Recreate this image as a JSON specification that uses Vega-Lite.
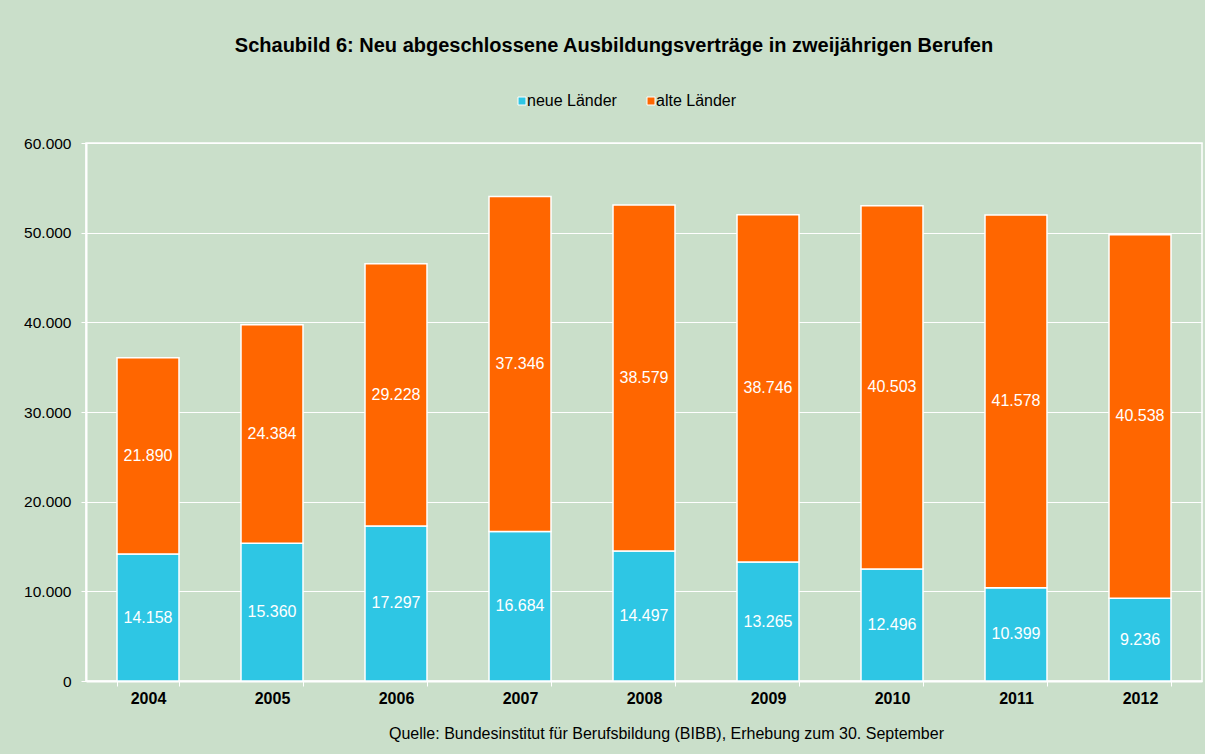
{
  "$schema": "https://vega.github.io/schema/vega-lite/v6.json",
  "width": 1116,
  "height": 538,
  "autosize": {"type": "none"},
  "padding": {"left": 86, "top": 143, "right": 3, "bottom": 73},
  "background": "#CADFCA",
  "title": {
    "text": "Schaubild 6: Neu abgeschlossene Ausbildungsverträge in zweijährigen Berufen",
    "anchor": "middle",
    "frame": "group",
    "dx": -30,
    "offset": 37,
    "fontSize": 20,
    "fontWeight": "bold",
    "font": "Liberation Sans",
    "color": "#000000"
  },
  "data": {
    "values": [
      {"year": "2004", "region": "neue Länder", "value": 14158},
      {"year": "2004", "region": "alte Länder", "value": 21890},
      {"year": "2005", "region": "neue Länder", "value": 15360},
      {"year": "2005", "region": "alte Länder", "value": 24384},
      {"year": "2006", "region": "neue Länder", "value": 17297},
      {"year": "2006", "region": "alte Länder", "value": 29228},
      {"year": "2007", "region": "neue Länder", "value": 16684},
      {"year": "2007", "region": "alte Länder", "value": 37346},
      {"year": "2008", "region": "neue Länder", "value": 14497},
      {"year": "2008", "region": "alte Länder", "value": 38579},
      {"year": "2009", "region": "neue Länder", "value": 13265},
      {"year": "2009", "region": "alte Länder", "value": 38746},
      {"year": "2010", "region": "neue Länder", "value": 12496},
      {"year": "2010", "region": "alte Länder", "value": 40503},
      {"year": "2011", "region": "neue Länder", "value": 10399},
      {"year": "2011", "region": "alte Länder", "value": 41578},
      {"year": "2012", "region": "neue Länder", "value": 9236},
      {"year": "2012", "region": "alte Länder", "value": 40538}
    ]
  },
  "transform": [
    {"stack": "value", "groupby": ["year"], "sort": [{"field": "region", "order": "descending"}], "as": ["y0", "y1"]},
    {"calculate": "(datum.y0 + datum.y1) / 2", "as": "mid"}
  ],
  "encoding": {
    "x": {
      "field": "year",
      "type": "nominal",
      "scale": {"paddingInner": 0.5, "paddingOuter": 0.25},
      "axis": {
        "labelAngle": 0,
        "labelFont": "Liberation Sans",
        "labelFontSize": 16,
        "labelFontWeight": "bold",
        "labelColor": "#000000",
        "labelPadding": 4,
        "tickBand": "extent",
        "tickColor": "#FFFFFF",
        "tickSize": 5,
        "domainColor": "#FFFFFF",
        "domainWidth": 2,
        "title": "Quelle: Bundesinstitut für Berufsbildung (BIBB), Erhebung zum 30. September",
        "titleFont": "Liberation Sans",
        "titleFontSize": 16,
        "titleFontWeight": "normal",
        "titleColor": "#000000",
        "titleX": 580,
        "titleY": 52,
        "titleAlign": "center",
        "titleBaseline": "middle"
      }
    }
  },
  "layer": [
    {
      "mark": {"type": "bar", "stroke": "#FFFFFF", "strokeWidth": 1.5},
      "encoding": {
        "y": {
          "field": "y0",
          "type": "quantitative",
          "scale": {"domain": [0, 60000]},
          "axis": {
            "values": [0, 10000, 20000, 30000, 40000, 50000, 60000],
            "format": ",d",
            "title": null,
            "labelFont": "Liberation Sans",
            "labelFontSize": 15.5,
            "labelColor": "#000000",
            "labelPadding": 10,
            "tickColor": "#FFFFFF",
            "tickSize": 5,
            "domainColor": "#FFFFFF",
            "domainWidth": 2,
            "gridColor": "#FFFFFF",
            "gridWidth": 1
          }
        },
        "y2": {"field": "y1"},
        "color": {
          "field": "region",
          "type": "nominal",
          "scale": {"domain": ["neue Länder", "alte Länder"], "range": ["#2EC6E4", "#FF6600"]},
          "legend": {
            "title": null,
            "orient": "none",
            "direction": "horizontal",
            "legendX": 428,
            "legendY": -50,
            "symbolType": "square",
            "symbolSize": 64,
            "symbolStrokeColor": "#FFFFFF",
            "symbolStrokeWidth": 1,
            "symbolOpacity": 1,
            "labelFont": "Liberation Sans",
            "labelFontSize": 16,
            "labelColor": "#000000",
            "labelOffset": -3,
            "columnPadding": 26
          }
        }
      }
    },
    {
      "mark": {"type": "text", "color": "#FFFFFF", "font": "Liberation Sans", "fontSize": 16, "baseline": "middle"},
      "encoding": {
        "y": {"field": "mid", "type": "quantitative"},
        "text": {"field": "value", "type": "quantitative", "format": ",d"}
      }
    }
  ],
  "config": {
    "locale": {"number": {"decimal": ",", "thousands": ".", "grouping": [3], "currency": ["", " €"]}},
    "view": {"stroke": "#FFFFFF", "strokeWidth": 1.5}
  }
}
